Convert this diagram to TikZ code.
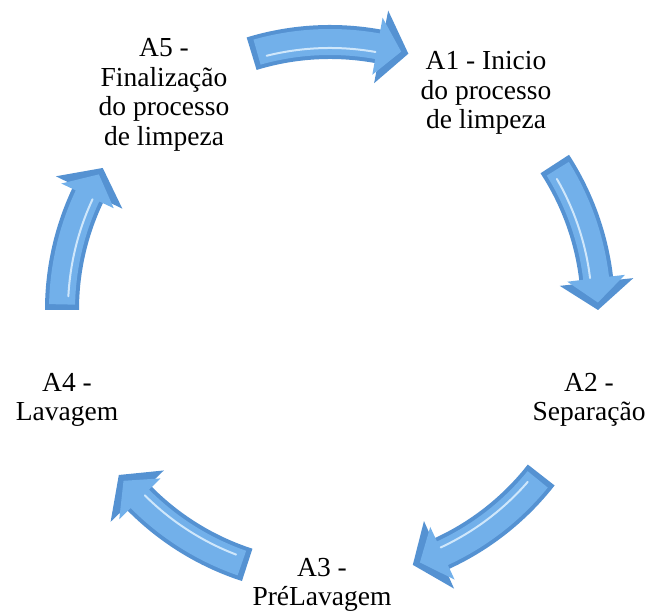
\documentclass[tikz,border=0pt]{standalone}
\usepackage{fontspec}
\setmainfont{Liberation Serif}
\newfontfamily{\stepfont}{Liberation Serif}
\usetikzlibrary{arrows}

% curved block arrow on the cycle, from angle #1 down to angle #2
\newcommand{\cycleArrow}[2]{%
	\pgfmathsetmacro{\hb}{#2+6}
	\begin{scope}[shift={(c)}]
	\fill[arrowEdgeStyle] (#1:285pt) arc[start angle=#1, end angle=\hb, radius=285pt]
		-- (\hb:305pt) -- (#2:268pt) -- (\hb:231pt) -- (\hb:251pt)
		arc[start angle=\hb, end angle=#1, radius=251pt] -- cycle;
	\fill[arrowFaceStyle] (#1-1.2:281pt) arc[start angle=#1-1.2, end angle=\hb+0.8, radius=281pt]
		-- (\hb+0.8:297pt) -- (#2+1.6:268pt) -- (\hb+0.8:239pt) -- (\hb+0.8:255pt)
		arc[start angle=\hb+0.8, end angle=#1-1.2, radius=255pt] -- cycle;
	\draw[arrowShineStyle] (#1-3:262pt) arc[start angle=#1-3, end angle=\hb+1, radius=262pt];
	\end{scope}}

\definecolor{arrowEdge}{HTML}{5592D2}
\definecolor{arrowFace}{HTML}{72B0EA}
\definecolor{arrowShine}{HTML}{CFE7FB}

\begin{document}
\begin{tikzpicture}[x = 1pt, y = 1pt]
	\tikzstyle{stepStyle} = [align = center, inner sep = 0pt, font = \stepfont\fontsize{27.5}{29.5}\selectfont]
	\tikzstyle{arrowEdgeStyle} = [fill = arrowEdge]
	\tikzstyle{arrowFaceStyle} = [fill = arrowFace]
	\tikzstyle{arrowShineStyle} = [draw = arrowShine, line width = 2pt, line cap = round]
	\useasboundingbox (0, 0) rectangle (648, 612);
	\coordinate (c) at (330, 302);
	\node[stepStyle] (a1) at (486, 519) {A1 - Inicio\\do processo\\de limpeza};
	\node[stepStyle] (a2) at (589, 212) {A2 -\\Separação};
	\node[stepStyle] (a3) at (322, 27) {A3 -\\PréLavagem};
	\node[stepStyle] (a4) at (67, 212) {A4 -\\Lavagem};
	\node[stepStyle] (a5) at (164, 517) {A5 -\\Finalização\\do processo\\de limpeza};
	\cycleArrow{107}{73}
	\cycleArrow{33}{0}
	\cycleArrow{-38}{-72}
	\cycleArrow{-108}{-142}
	\cycleArrow{180}{148}
\end{tikzpicture}
\end{document}
